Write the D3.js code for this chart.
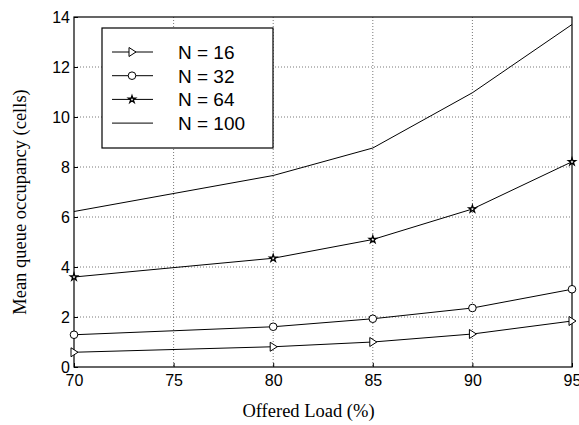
<!DOCTYPE html>
<html><head><meta charset="utf-8">
<script src="https://cdn.jsdelivr.net/npm/d3@7"></script>
<style>body{margin:0;background:#fff}svg{display:block}</style>
</head><body>
<svg id="c" width="579" height="425"></svg>
<script>
const loads = [70, 80, 85, 90, 95];
const n16 = [0.59, 0.81, 1.0, 1.32, 1.84];
const n32 = [1.29, 1.61, 1.93, 2.36, 3.11];
const n64 = [3.6, 4.35, 5.1, 6.32, 8.21];
const n100 = [6.22, 7.66, 8.76, 10.97, 13.7];
const xTicks = [70, 75, 80, 85, 90, 95];
const yTicks = [0, 2, 4, 6, 8, 10, 12, 14];
const seriesNames = ["N = 16", "N = 32", "N = 64", "N = 100"];
const seriesMarkers = ["triangle", "circle", "star", "none"];
const seriesValues = [n16, n32, n64, n100];

const svg = d3.select("#c");
const L = 74, R = 572, T = 17, B = 367;
const x = d3.scaleLinear().domain([70, 95]).range([L, R]);
const y = d3.scaleLinear().domain([0, 14]).range([B, T]);

// grid
const g = svg.append("g");
g.selectAll(".vg").data(xTicks.slice(1, -1)).enter().append("line")
  .attr("x1", d => x(d)).attr("x2", d => x(d)).attr("y1", T).attr("y2", B)
  .attr("stroke", "#555").attr("stroke-width", 0.8).attr("stroke-dasharray", "1,2");
g.selectAll(".hg").data(yTicks.slice(1, -1)).enter().append("line")
  .attr("y1", d => y(d)).attr("y2", d => y(d)).attr("x1", L).attr("x2", R)
  .attr("stroke", "#555").attr("stroke-width", 0.8).attr("stroke-dasharray", "1,2");

// axes
const xa = svg.append("g").attr("transform", `translate(0,${B})`)
  .call(d3.axisBottom(x).tickValues(xTicks).tickSize(-4).tickPadding(8).tickFormat(d3.format("d")));
const ya = svg.append("g").attr("transform", `translate(${L},0)`)
  .call(d3.axisLeft(y).tickValues(yTicks).tickSize(-4).tickPadding(4).tickFormat(d3.format("d")));
[xa, ya].forEach(a => {
  a.select(".domain").remove();
  a.selectAll("line").attr("stroke", "#000");
  a.selectAll("text").attr("font-family", "Liberation Sans, Arial, sans-serif")
    .attr("font-size", 16).attr("fill", "#000");
});
ya.selectAll("text").attr("dy", "0.35em");
xa.selectAll("text").attr("dy", "0.71em");
// frame
svg.append("rect").attr("x", L).attr("y", T).attr("width", R - L).attr("height", B - T)
  .attr("fill", "none").attr("stroke", "#000").attr("stroke-width", 1.2);

// lines
const line = d3.line().x((d, i) => x(loads[i])).y(d => y(d));
const star = d3.symbol().type(d3.symbolStar).size(16);
const tri = "M-3,-4.5L4,0L-3,4.5Z";
function marker(sel, type, cx, cy) {
  if (type === "circle") sel.append("circle").attr("cx", cx).attr("cy", cy).attr("r", 3.8)
    .attr("fill", "#fff").attr("stroke", "#000").attr("stroke-width", 1);
  else if (type === "triangle") sel.append("path").attr("d", tri).attr("transform", `translate(${cx},${cy})`)
    .attr("fill", "#fff").attr("stroke", "#000").attr("stroke-width", 1);
  else if (type === "star") sel.append("path").attr("d", star()).attr("transform", `translate(${cx},${cy})`)
    .attr("fill", "#fff").attr("stroke", "#000").attr("stroke-width", 1.3);
}
seriesValues.forEach((vals, k) => {
  svg.append("path").datum(vals).attr("d", line).attr("fill", "none")
    .attr("stroke", "#000").attr("stroke-width", 1);
  const mg = svg.append("g");
  vals.forEach((v, i) => marker(mg, seriesMarkers[k], x(loads[i]), y(v)));
});

// legend
const lg = svg.append("g");
lg.append("rect").attr("x", 102).attr("y", 28).attr("width", 171).attr("height", 120)
  .attr("fill", "#fff").attr("stroke", "#000").attr("stroke-width", 1.2);
seriesNames.forEach((name, k) => {
  const cy = 52 + k * 23.7;
  lg.append("line").attr("x1", 112).attr("x2", 153).attr("y1", cy).attr("y2", cy)
    .attr("stroke", "#000").attr("stroke-width", 1);
  marker(lg, seriesMarkers[k], 132, cy);
  lg.append("text").attr("x", 178).attr("y", cy + 7).text(name)
    .attr("font-family", "Liberation Sans, Arial, sans-serif").attr("font-size", 19)
    .attr("fill", "#000").style("white-space", "pre");
});

// axis titles
svg.append("text").attr("x", 308.5).attr("y", 417).attr("text-anchor", "middle")
  .attr("font-family", "Liberation Serif, Times New Roman, serif").attr("font-size", 18.5)
  .text("Offered Load (%)");
svg.append("text").attr("transform", "translate(26,202) rotate(-90)").attr("text-anchor", "middle")
  .attr("font-family", "Liberation Serif, Times New Roman, serif").attr("font-size", 18.5)
  .text("Mean queue occupancy (cells)");
</script>
</body></html>
